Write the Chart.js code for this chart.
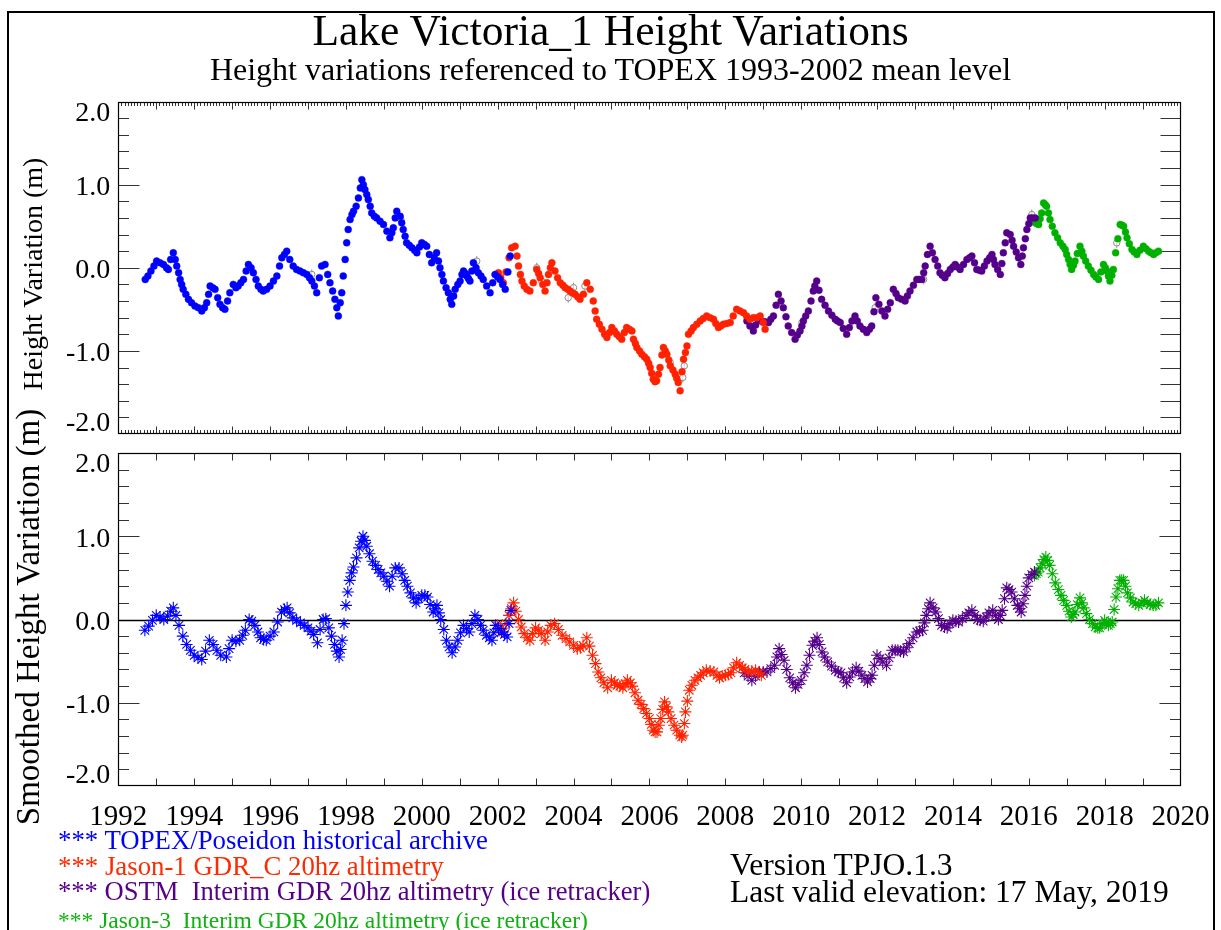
<!DOCTYPE html>
<html><head><meta charset="utf-8">
<script src="https://cdn.jsdelivr.net/npm/chart.js@4.4.1/dist/chart.umd.min.js"></script>
<style>
html,body{margin:0;padding:0;background:#fff;width:1221px;height:930px;overflow:hidden;}
body{position:relative;font-family:"Liberation Serif","Times New Roman",serif;color:#000;}
canvas{position:absolute;left:0;top:0;}
.t{position:absolute;white-space:pre;line-height:1;}
.c{left:0;width:1221px;text-align:center;}
.rot{transform:translate(-50%,-50%) rotate(-90deg);}
#frame{position:absolute;left:7px;top:11px;width:1204px;height:1000px;border:2px solid #000;}
</style></head><body>
<div id="frame"></div>
<canvas id="c1" width="1221" height="930"></canvas>
<canvas id="c2" width="1221" height="930"></canvas>
<div class="t c" style="top:9px;font-size:43.5px;">Lake Victoria_1 Height Variations</div>
<div class="t c" style="top:53px;font-size:32px;">Height variations referenced to TOPEX 1993-2002 mean level</div>
<div class="t rot" style="left:33px;top:274px;font-size:28px;">Height Variation (m)</div>
<div class="t rot" style="left:28px;top:617px;font-size:33px;">Smoothed Height Variation (m)</div>
<div class="t" style="left:58px;top:827px;font-size:26.8px;color:#0000ff;">*** TOPEX/Poseidon historical archive</div>
<div class="t" style="left:58px;top:853px;font-size:26.8px;color:#ff2a00;">*** Jason-1 GDR_C 20hz altimetry</div>
<div class="t" style="left:58px;top:878px;font-size:26.6px;color:#560088;">*** OSTM  Interim GDR 20hz altimetry (ice retracker)</div>
<div class="t" style="left:58px;top:909px;font-size:23.5px;color:#10b010;">*** Jason-3  Interim GDR 20hz altimetry (ice retracker)</div>
<div class="t" style="left:730px;top:849px;font-size:31.5px;">Version TPJO.1.3</div>
<div class="t" style="left:730px;top:876px;font-size:31.5px;">Last valid elevation: 17 May, 2019</div>
<script>
// ---------- axis definitions ----------
const xTickYears = [1992,1994,1996,1998,2000,2002,2004,2006,2008,2010,2012,2014,2016,2018,2020];
const xTickLabels = ['1992','1994','1996','1998','2000','2002','2004','2006','2008','2010','2012','2014','2016','2018','2020'];
const yTickValues = [-2,-1,0,1,2];
const yTickLabels = ['-2.0','-1.0','0.0','1.0','2.0'];

// ---------- top panel: height variations [decimal year, metres] ----------
const topexHeights = [[1992.71,-0.14],[1992.78,-0.10],[1992.86,-0.04],[1992.94,0.02],[1993.01,0.08],[1993.10,0.06],[1993.19,0.04],[1993.27,0.00],[1993.32,-0.02],[1993.38,0.10],[1993.45,0.18],[1993.50,0.10],[1993.54,0.02],[1993.59,-0.06],[1993.63,-0.14],[1993.67,-0.20],[1993.71,-0.26],[1993.78,-0.32],[1993.85,-0.38],[1993.93,-0.42],[1994.02,-0.46],[1994.11,-0.48],[1994.20,-0.52],[1994.27,-0.48],[1994.33,-0.42],[1994.38,-0.32],[1994.42,-0.22],[1994.49,-0.24],[1994.55,-0.26],[1994.62,-0.36],[1994.68,-0.44],[1994.75,-0.48],[1994.81,-0.50],[1994.88,-0.40],[1994.94,-0.30],[1995.03,-0.20],[1995.10,-0.24],[1995.16,-0.22],[1995.23,-0.18],[1995.30,-0.14],[1995.37,-0.04],[1995.43,0.04],[1995.50,0.00],[1995.56,-0.06],[1995.63,-0.14],[1995.69,-0.22],[1995.76,-0.26],[1995.82,-0.28],[1995.91,-0.26],[1996.00,-0.22],[1996.09,-0.16],[1996.18,-0.10],[1996.25,0.02],[1996.31,0.12],[1996.38,0.16],[1996.44,0.20],[1996.52,0.10],[1996.61,0.02],[1996.70,-0.02],[1996.79,-0.04],[1996.88,-0.06],[1996.97,-0.08],[1997.04,-0.12],[1997.10,-0.16],[1997.17,-0.22],[1997.23,-0.30],[1997.30,-0.12],[1997.36,0.02],[1997.45,0.04],[1997.52,-0.08],[1997.58,-0.18],[1997.65,-0.28],[1997.71,-0.38],[1997.76,-0.48],[1997.80,-0.58],[1997.85,-0.42],[1997.89,-0.30],[1997.93,-0.10],[1997.98,0.10],[1998.02,0.30],[1998.06,0.46],[1998.11,0.58],[1998.16,0.64],[1998.20,0.68],[1998.27,0.74],[1998.33,0.84],[1998.38,0.96],[1998.42,1.06],[1998.46,1.00],[1998.50,0.94],[1998.55,0.88],[1998.59,0.82],[1998.64,0.74],[1998.68,0.66],[1998.75,0.62],[1998.81,0.60],[1998.90,0.56],[1998.99,0.52],[1999.08,0.44],[1999.16,0.36],[1999.21,0.42],[1999.25,0.48],[1999.30,0.60],[1999.34,0.68],[1999.43,0.62],[1999.47,0.54],[1999.51,0.46],[1999.56,0.38],[1999.60,0.30],[1999.67,0.27],[1999.74,0.24],[1999.81,0.21],[1999.87,0.18],[1999.94,0.25],[2000.00,0.30],[2000.07,0.28],[2000.13,0.26],[2000.20,0.16],[2000.26,0.06],[2000.33,0.12],[2000.39,0.18],[2000.44,0.08],[2000.48,0.00],[2000.53,-0.08],[2000.57,-0.16],[2000.64,-0.24],[2000.70,-0.30],[2000.75,-0.38],[2000.79,-0.44],[2000.84,-0.34],[2000.88,-0.26],[2000.95,-0.20],[2001.01,-0.16],[2001.06,-0.08],[2001.10,-0.04],[2001.15,-0.07],[2001.19,-0.10],[2001.23,-0.13],[2001.27,-0.16],[2001.32,-0.04],[2001.36,0.06],[2001.43,0.00],[2001.49,-0.06],[2001.56,-0.10],[2001.62,-0.14],[2001.71,-0.22],[2001.80,-0.30],[2001.87,-0.18],[2001.93,-0.08],[2002.00,-0.11],[2002.06,-0.14],[2002.13,-0.20],[2002.20,-0.26],[2002.27,-0.05],[2002.33,0.14]];
const jason1Heights = [[2002.02,-0.06],[2002.08,-0.12],[2002.15,-0.18],[2002.22,-0.05],[2002.30,0.12],[2002.37,0.24],[2002.46,0.26],[2002.51,0.14],[2002.55,0.02],[2002.60,-0.08],[2002.64,-0.16],[2002.70,-0.22],[2002.77,-0.26],[2002.85,-0.28],[2002.94,-0.18],[2003.03,-0.02],[2003.08,-0.07],[2003.12,-0.12],[2003.19,-0.20],[2003.25,-0.28],[2003.30,-0.18],[2003.34,-0.08],[2003.39,0.00],[2003.43,0.06],[2003.51,-0.04],[2003.58,-0.12],[2003.65,-0.18],[2003.72,-0.21],[2003.78,-0.24],[2003.85,-0.26],[2003.91,-0.28],[2003.97,-0.30],[2004.04,-0.32],[2004.11,-0.35],[2004.17,-0.38],[2004.26,-0.32],[2004.35,-0.18],[2004.44,-0.26],[2004.52,-0.40],[2004.57,-0.52],[2004.61,-0.62],[2004.68,-0.68],[2004.75,-0.74],[2004.82,-0.80],[2004.88,-0.84],[2004.95,-0.78],[2005.01,-0.72],[2005.08,-0.76],[2005.14,-0.80],[2005.21,-0.83],[2005.27,-0.86],[2005.34,-0.78],[2005.40,-0.72],[2005.47,-0.74],[2005.54,-0.76],[2005.58,-0.86],[2005.63,-0.91],[2005.67,-0.96],[2005.74,-1.00],[2005.80,-1.04],[2005.87,-1.07],[2005.93,-1.10],[2005.98,-1.15],[2006.02,-1.20],[2006.06,-1.27],[2006.10,-1.34],[2006.15,-1.37],[2006.19,-1.36],[2006.24,-1.28],[2006.28,-1.20],[2006.33,-1.05],[2006.37,-0.96],[2006.42,-1.00],[2006.46,-1.04],[2006.51,-1.11],[2006.55,-1.18],[2006.62,-1.23],[2006.68,-1.28],[2006.72,-1.33],[2006.76,-1.38],[2006.81,-1.48],[2006.86,-1.25],[2006.90,-1.10],[2006.95,-1.02],[2006.99,-0.94],[2007.03,-0.80],[2007.10,-0.76],[2007.16,-0.72],[2007.25,-0.68],[2007.34,-0.64],[2007.42,-0.61],[2007.51,-0.58],[2007.60,-0.60],[2007.69,-0.62],[2007.75,-0.67],[2007.82,-0.72],[2007.88,-0.70],[2007.95,-0.68],[2008.04,-0.67],[2008.13,-0.66],[2008.21,-0.58],[2008.30,-0.50],[2008.39,-0.52],[2008.48,-0.54],[2008.56,-0.58],[2008.65,-0.62],[2008.74,-0.60],[2008.83,-0.60],[2008.92,-0.58],[2009.00,-0.66],[2009.05,-0.74]];
const ostmHeights = [[2008.57,-0.64],[2008.65,-0.70],[2008.74,-0.76],[2008.80,-0.69],[2008.87,-0.62],[2008.95,-0.64],[2009.05,-0.65],[2009.14,-0.66],[2009.20,-0.62],[2009.27,-0.58],[2009.34,-0.45],[2009.40,-0.32],[2009.47,-0.40],[2009.53,-0.48],[2009.60,-0.59],[2009.66,-0.70],[2009.75,-0.78],[2009.84,-0.86],[2009.90,-0.81],[2009.97,-0.76],[2010.02,-0.70],[2010.06,-0.64],[2010.12,-0.58],[2010.19,-0.52],[2010.26,-0.40],[2010.32,-0.28],[2010.36,-0.22],[2010.41,-0.16],[2010.47,-0.27],[2010.54,-0.38],[2010.63,-0.45],[2010.72,-0.52],[2010.81,-0.57],[2010.90,-0.62],[2010.96,-0.64],[2011.03,-0.66],[2011.11,-0.73],[2011.20,-0.80],[2011.27,-0.72],[2011.34,-0.64],[2011.42,-0.58],[2011.48,-0.64],[2011.55,-0.70],[2011.64,-0.74],[2011.73,-0.78],[2011.80,-0.74],[2011.86,-0.70],[2011.92,-0.53],[2011.97,-0.36],[2012.05,-0.44],[2012.13,-0.52],[2012.21,-0.58],[2012.28,-0.50],[2012.35,-0.42],[2012.43,-0.26],[2012.50,-0.31],[2012.56,-0.36],[2012.65,-0.38],[2012.74,-0.40],[2012.80,-0.34],[2012.87,-0.28],[2012.96,-0.21],[2013.05,-0.14],[2013.11,-0.14],[2013.18,-0.14],[2013.23,-0.06],[2013.27,0.02],[2013.33,0.16],[2013.40,0.26],[2013.46,0.18],[2013.53,0.10],[2013.60,0.02],[2013.66,-0.06],[2013.72,-0.09],[2013.79,-0.12],[2013.86,-0.07],[2013.93,-0.02],[2014.00,0.01],[2014.06,0.04],[2014.12,0.01],[2014.19,-0.02],[2014.28,0.04],[2014.37,0.10],[2014.44,0.12],[2014.50,0.14],[2014.57,0.06],[2014.63,-0.02],[2014.70,-0.03],[2014.76,-0.04],[2014.83,0.02],[2014.90,0.08],[2014.97,0.12],[2015.03,0.16],[2015.07,0.10],[2015.11,0.04],[2015.18,-0.02],[2015.25,-0.08],[2015.29,0.05],[2015.33,0.18],[2015.38,0.30],[2015.42,0.42],[2015.51,0.40],[2015.56,0.33],[2015.60,0.26],[2015.67,0.19],[2015.73,0.12],[2015.79,0.04],[2015.83,0.14],[2015.86,0.24],[2015.91,0.35],[2015.95,0.46],[2016.00,0.53],[2016.04,0.60],[2016.10,0.60],[2016.17,0.60]];
const jason3Heights = [[2016.13,0.56],[2016.17,0.54],[2016.22,0.53],[2016.26,0.52],[2016.30,0.59],[2016.34,0.66],[2016.39,0.78],[2016.43,0.76],[2016.47,0.74],[2016.52,0.66],[2016.56,0.58],[2016.62,0.50],[2016.69,0.42],[2016.76,0.36],[2016.83,0.30],[2016.90,0.26],[2016.96,0.22],[2017.00,0.16],[2017.05,0.10],[2017.09,0.04],[2017.13,-0.02],[2017.18,0.03],[2017.22,0.08],[2017.28,0.17],[2017.35,0.26],[2017.40,0.20],[2017.44,0.14],[2017.50,0.08],[2017.57,0.02],[2017.64,-0.03],[2017.71,-0.08],[2017.77,-0.11],[2017.84,-0.14],[2017.90,-0.05],[2017.97,0.04],[2018.02,0.00],[2018.06,-0.04],[2018.10,-0.10],[2018.14,-0.16],[2018.19,-0.09],[2018.23,-0.02],[2018.29,0.18],[2018.35,0.35],[2018.41,0.52],[2018.46,0.51],[2018.50,0.50],[2018.55,0.43],[2018.59,0.36],[2018.65,0.29],[2018.72,0.22],[2018.78,0.19],[2018.85,0.16],[2018.93,0.21],[2019.02,0.26],[2019.09,0.23],[2019.16,0.20],[2019.22,0.18],[2019.29,0.16],[2019.35,0.18],[2019.42,0.20]];
const rejectedHeights = [[1997.10,-0.08],[1999.45,0.58],[2000.83,-0.32],[2001.45,0.08],[2003.03,0.00],[2003.16,-0.16],[2003.86,-0.36],[2004.00,-0.24],[2004.30,-0.22],[2006.55,-1.14],[2006.88,-1.32],[2006.92,-1.18],[2010.02,-0.66],[2011.95,-0.48],[2013.23,-0.14],[2016.08,0.64],[2018.32,0.30]];

// ---------- bottom panel: smoothed height variations ----------
const topexSmooth = [[1992.70,-0.13],[1992.80,-0.08],[1992.90,-0.01],[1993.00,0.05],[1993.10,0.03],[1993.20,0.00],[1993.30,0.04],[1993.38,0.10],[1993.45,0.14],[1993.52,0.05],[1993.60,-0.07],[1993.70,-0.20],[1993.80,-0.30],[1993.90,-0.37],[1994.00,-0.43],[1994.10,-0.46],[1994.20,-0.48],[1994.30,-0.38],[1994.40,-0.25],[1994.50,-0.30],[1994.60,-0.37],[1994.70,-0.43],[1994.85,-0.45],[1994.92,-0.35],[1995.00,-0.25],[1995.10,-0.26],[1995.20,-0.25],[1995.28,-0.19],[1995.35,-0.13],[1995.45,0.00],[1995.52,-0.02],[1995.60,-0.07],[1995.68,-0.15],[1995.75,-0.22],[1995.83,-0.24],[1995.90,-0.25],[1996.00,-0.20],[1996.10,-0.15],[1996.20,-0.03],[1996.30,0.09],[1996.38,0.12],[1996.45,0.14],[1996.52,0.08],[1996.60,0.02],[1996.70,-0.01],[1996.80,-0.04],[1996.90,-0.07],[1997.00,-0.10],[1997.08,-0.14],[1997.15,-0.18],[1997.25,-0.28],[1997.32,-0.12],[1997.40,0.00],[1997.47,0.01],[1997.55,-0.10],[1997.62,-0.20],[1997.70,-0.30],[1997.76,-0.38],[1997.82,-0.45],[1997.86,-0.36],[1997.90,-0.25],[1997.95,-0.05],[1998.00,0.17],[1998.05,0.33],[1998.10,0.47],[1998.15,0.56],[1998.20,0.63],[1998.28,0.74],[1998.35,0.86],[1998.40,0.94],[1998.45,1.00],[1998.50,0.95],[1998.55,0.88],[1998.62,0.79],[1998.70,0.70],[1998.78,0.65],[1998.85,0.60],[1998.92,0.56],[1999.00,0.52],[1999.08,0.46],[1999.15,0.40],[1999.22,0.52],[1999.30,0.62],[1999.40,0.62],[1999.48,0.55],[1999.55,0.47],[1999.62,0.40],[1999.70,0.32],[1999.78,0.26],[1999.85,0.20],[1999.92,0.25],[2000.00,0.29],[2000.08,0.29],[2000.15,0.27],[2000.22,0.18],[2000.30,0.09],[2000.35,0.13],[2000.40,0.17],[2000.45,0.08],[2000.50,0.00],[2000.58,-0.12],[2000.65,-0.25],[2000.72,-0.33],[2000.80,-0.40],[2000.88,-0.33],[2000.95,-0.25],[2001.02,-0.16],[2001.10,-0.07],[2001.18,-0.11],[2001.25,-0.15],[2001.32,-0.05],[2001.40,0.05],[2001.48,0.00],[2001.55,-0.07],[2001.62,-0.13],[2001.70,-0.19],[2001.78,-0.22],[2001.85,-0.25],[2001.90,-0.16],[2001.95,-0.07],[2002.02,-0.11],[2002.10,-0.15],[2002.18,-0.18],[2002.25,-0.21],[2002.30,-0.05],[2002.35,0.11]];
const jason1Smooth = [[2002.00,-0.07],[2002.08,-0.11],[2002.15,-0.15],[2002.22,-0.05],[2002.30,0.05],[2002.36,0.13],[2002.42,0.20],[2002.48,0.10],[2002.55,0.00],[2002.62,-0.09],[2002.70,-0.17],[2002.78,-0.22],[2002.85,-0.25],[2002.92,-0.17],[2003.00,-0.10],[2003.08,-0.13],[2003.15,-0.17],[2003.25,-0.25],[2003.32,-0.15],[2003.40,-0.07],[2003.50,-0.05],[2003.60,-0.12],[2003.70,-0.19],[2003.80,-0.23],[2003.90,-0.27],[2004.00,-0.31],[2004.10,-0.35],[2004.18,-0.34],[2004.25,-0.31],[2004.35,-0.22],[2004.42,-0.32],[2004.50,-0.43],[2004.58,-0.53],[2004.65,-0.63],[2004.72,-0.70],[2004.80,-0.76],[2004.90,-0.82],[2005.00,-0.73],[2005.08,-0.76],[2005.15,-0.79],[2005.22,-0.80],[2005.30,-0.82],[2005.36,-0.77],[2005.42,-0.73],[2005.50,-0.76],[2005.55,-0.80],[2005.62,-0.88],[2005.70,-0.97],[2005.78,-1.02],[2005.85,-1.07],[2005.92,-1.13],[2006.00,-1.19],[2006.05,-1.26],[2006.10,-1.33],[2006.15,-1.35],[2006.20,-1.35],[2006.25,-1.27],[2006.30,-1.19],[2006.35,-1.08],[2006.40,-0.99],[2006.45,-1.05],[2006.50,-1.11],[2006.57,-1.19],[2006.65,-1.27],[2006.72,-1.33],[2006.80,-1.39],[2006.85,-1.41],[2006.88,-1.39],[2006.92,-1.25],[2006.95,-1.11],[2007.00,-0.98],[2007.05,-0.85],[2007.12,-0.79],[2007.20,-0.73],[2007.28,-0.70],[2007.35,-0.67],[2007.42,-0.64],[2007.50,-0.61],[2007.60,-0.62],[2007.70,-0.63],[2007.78,-0.67],[2007.85,-0.70],[2007.92,-0.68],[2008.00,-0.67],[2008.08,-0.66],[2008.15,-0.64],[2008.22,-0.58],[2008.30,-0.52],[2008.38,-0.55],[2008.45,-0.58],[2008.52,-0.60],[2008.60,-0.63],[2008.70,-0.62],[2008.80,-0.61],[2008.88,-0.64],[2008.95,-0.67]];
const ostmSmooth = [[2008.50,-0.64],[2008.60,-0.68],[2008.70,-0.73],[2008.80,-0.68],[2008.90,-0.63],[2009.00,-0.63],[2009.10,-0.63],[2009.20,-0.59],[2009.30,-0.55],[2009.36,-0.45],[2009.42,-0.35],[2009.48,-0.42],[2009.55,-0.49],[2009.62,-0.60],[2009.70,-0.70],[2009.78,-0.76],[2009.85,-0.82],[2009.92,-0.78],[2010.00,-0.73],[2010.08,-0.64],[2010.15,-0.55],[2010.22,-0.43],[2010.30,-0.31],[2010.36,-0.26],[2010.42,-0.22],[2010.48,-0.30],[2010.55,-0.39],[2010.62,-0.45],[2010.70,-0.51],[2010.80,-0.56],[2010.90,-0.61],[2010.98,-0.63],[2011.05,-0.64],[2011.12,-0.70],[2011.20,-0.76],[2011.28,-0.69],[2011.35,-0.63],[2011.45,-0.58],[2011.52,-0.62],[2011.60,-0.67],[2011.68,-0.71],[2011.75,-0.75],[2011.82,-0.71],[2011.87,-0.67],[2011.93,-0.55],[2012.00,-0.43],[2012.08,-0.47],[2012.15,-0.51],[2012.25,-0.55],[2012.32,-0.46],[2012.40,-0.37],[2012.48,-0.37],[2012.55,-0.37],[2012.62,-0.38],[2012.70,-0.39],[2012.78,-0.34],[2012.85,-0.29],[2012.95,-0.22],[2013.05,-0.15],[2013.12,-0.14],[2013.20,-0.13],[2013.25,-0.04],[2013.30,0.05],[2013.35,0.13],[2013.40,0.20],[2013.48,0.14],[2013.55,0.09],[2013.62,0.01],[2013.70,-0.07],[2013.78,-0.09],[2013.85,-0.10],[2013.92,-0.05],[2014.00,-0.01],[2014.08,-0.02],[2014.15,-0.03],[2014.25,0.01],[2014.35,0.05],[2014.42,0.08],[2014.50,0.11],[2014.58,0.05],[2014.65,0.00],[2014.72,-0.01],[2014.80,-0.02],[2014.88,0.03],[2014.95,0.08],[2015.05,0.11],[2015.12,0.05],[2015.20,0.00],[2015.25,0.05],[2015.30,0.11],[2015.36,0.25],[2015.42,0.38],[2015.48,0.36],[2015.55,0.33],[2015.62,0.25],[2015.70,0.17],[2015.75,0.13],[2015.80,0.09],[2015.85,0.19],[2015.90,0.29],[2015.95,0.40],[2016.00,0.50],[2016.08,0.54],[2016.15,0.57]];
const jason3Smooth = [[2016.15,0.53],[2016.20,0.55],[2016.25,0.57],[2016.30,0.62],[2016.35,0.67],[2016.40,0.72],[2016.45,0.75],[2016.50,0.71],[2016.55,0.65],[2016.62,0.55],[2016.70,0.44],[2016.78,0.36],[2016.85,0.29],[2016.92,0.23],[2017.00,0.17],[2017.06,0.10],[2017.12,0.03],[2017.17,0.06],[2017.22,0.09],[2017.28,0.18],[2017.35,0.26],[2017.40,0.20],[2017.45,0.14],[2017.52,0.07],[2017.60,0.00],[2017.68,-0.05],[2017.75,-0.09],[2017.82,-0.10],[2017.87,-0.10],[2017.93,-0.05],[2018.00,-0.01],[2018.05,-0.04],[2018.10,-0.07],[2018.15,-0.05],[2018.20,-0.03],[2018.25,0.12],[2018.30,0.27],[2018.35,0.37],[2018.40,0.47],[2018.45,0.47],[2018.50,0.47],[2018.55,0.40],[2018.60,0.32],[2018.68,0.26],[2018.75,0.21],[2018.82,0.19],[2018.90,0.17],[2018.98,0.20],[2019.05,0.23],[2019.12,0.20],[2019.20,0.18],[2019.28,0.17],[2019.35,0.17],[2019.42,0.20]];

// ---------- styling ----------
const COL = {topex:'#0000ff', jason1:'#ff2200', ostm:'#55008a', jason3:'#00b000', rej:'#8a8a8a'};
const toXY = a => a.map(p => ({x:p[0], y:p[1]}));

const idlAxes = {
  id:'idlAxes',
  beforeDatasetsDraw(chart){
    const o = chart.options.plugins.idlAxes;
    const {ctx, chartArea:a, scales:{x, y}} = chart;
    const L = Math.round(a.left)+0.5, R = Math.round(a.right)-0.5, T = Math.round(a.top)+0.5, B = Math.round(a.bottom)-0.5;
    const x0 = x.min, x1 = x.max;
    ctx.save();
    ctx.lineWidth = 1;
    ctx.strokeStyle = '#333';
    ctx.beginPath();
    for (let yr = x0; yr <= x1; yr++){
      const px = Math.round(x.getPixelForValue(yr))+0.5;
      if (yr > x0 && yr < x1){
        ctx.moveTo(px,T); ctx.lineTo(px,T+o.xMajorLen);
        ctx.moveTo(px,B); ctx.lineTo(px,B-o.xMajorLen);
      }
      if (o.monthly && yr < x1){
        for (let m = 1; m < 12; m++){
          const pm = Math.round(x.getPixelForValue(yr+m/12))+0.5;
          ctx.moveTo(pm,T); ctx.lineTo(pm,T+o.xMinorLen);
          ctx.moveTo(pm,B); ctx.lineTo(pm,B-o.xMinorLen);
        }
      }
    }
    for (let k = -9; k <= 9; k++){
      const py = Math.round(y.getPixelForValue(k/5))+0.5;
      const major = (k % 5 === 0);
      ctx.moveTo(L,py); ctx.lineTo(L+(major?o.lMajorLen:o.lMinorLen),py);
      ctx.moveTo(R,py); ctx.lineTo(R-(major?o.rMajorLen:o.rMinorLen),py);
    }
    ctx.stroke();
    ctx.strokeStyle = '#000';
    ctx.lineWidth = 1.2;
    ctx.strokeRect(L,T,R-L,B-T);
    if (o.zeroLine){
      const pz = Math.round(y.getPixelForValue(0))+0.5;
      ctx.lineWidth = 1.5;
      ctx.beginPath(); ctx.moveTo(L,pz); ctx.lineTo(R,pz); ctx.stroke();
    }
    ctx.fillStyle = '#000';
    ctx.font = o.yFont + 'px "Liberation Serif", serif';
    ctx.textAlign = 'right';
    ctx.textBaseline = 'alphabetic';
    yTickValues.forEach((v,i) => {
      let off = 10.5;
      if (i === yTickValues.length-1) off = 19;
      if (i === 0) off = -3;
      ctx.fillText(yTickLabels[i], a.left-8, y.getPixelForValue(v)+off);
    });
    if (o.xLabels){
      ctx.font = '29px "Liberation Serif", serif';
      ctx.textAlign = 'center';
      xTickYears.forEach((yr,i) => ctx.fillText(xTickLabels[i], x.getPixelForValue(yr), a.bottom+39));
    }
    ctx.restore();
  }
};

function dotSet(data, color){
  return {data: toXY(data), pointStyle:'circle', pointRadius:3.5, pointBackgroundColor:color, pointBorderColor:color, pointBorderWidth:0.4, showLine:false};
}
function starSet(data, color){
  return {data: toXY(data), pointStyle:'star', pointRadius:6, pointBackgroundColor:color, pointBorderColor:color, pointBorderWidth:1.1, showLine:false};
}
function makeChart(id, pad, datasets, axOpts){
  return new Chart(document.getElementById(id), {
    type:'scatter',
    data:{datasets},
    options:{
      responsive:false, animation:false, devicePixelRatio:1,
      layout:{padding:pad},
      scales:{
        x:{type:'linear', min:1992, max:2020, display:false},
        y:{type:'linear', min:-2, max:2, display:false}
      },
      plugins:{legend:{display:false}, title:{display:false}, tooltip:{enabled:false}, idlAxes:axOpts},
      events:[]
    },
    plugins:[idlAxes]
  });
}

makeChart('c1', {left:118.3, top:101.5, right:40.5, bottom:496},
  [dotSet(topexHeights, COL.topex), dotSet(jason1Heights, COL.jason1), dotSet(ostmHeights, COL.ostm), dotSet(jason3Heights, COL.jason3),
   {data: toXY(rejectedHeights), pointStyle:'circle', pointRadius:3.2, pointBackgroundColor:'rgba(255,255,255,0.6)', pointBorderColor:COL.rej, pointBorderWidth:1, showLine:false},
   {data: toXY(rejectedHeights), pointStyle:'line', pointRotation:90, pointRadius:5, pointBorderColor:COL.rej, pointBorderWidth:1, showLine:false}],
  {monthly:true, xMajorLen:7, xMinorLen:3.5, lMajorLen:21, lMinorLen:10.5, rMajorLen:20, rMinorLen:20, zeroLine:false, xLabels:false, yFont:28});

makeChart('c2', {left:118.3, top:453, right:40.5, bottom:144},
  [starSet(topexSmooth, COL.topex), starSet(jason1Smooth, COL.jason1), starSet(ostmSmooth, COL.ostm), starSet(jason3Smooth, COL.jason3)],
  {monthly:false, xMajorLen:7, xMinorLen:0, lMajorLen:21, lMinorLen:10.5, rMajorLen:21, rMinorLen:10.5, zeroLine:true, xLabels:true, yFont:28});
</script>
</body></html>
